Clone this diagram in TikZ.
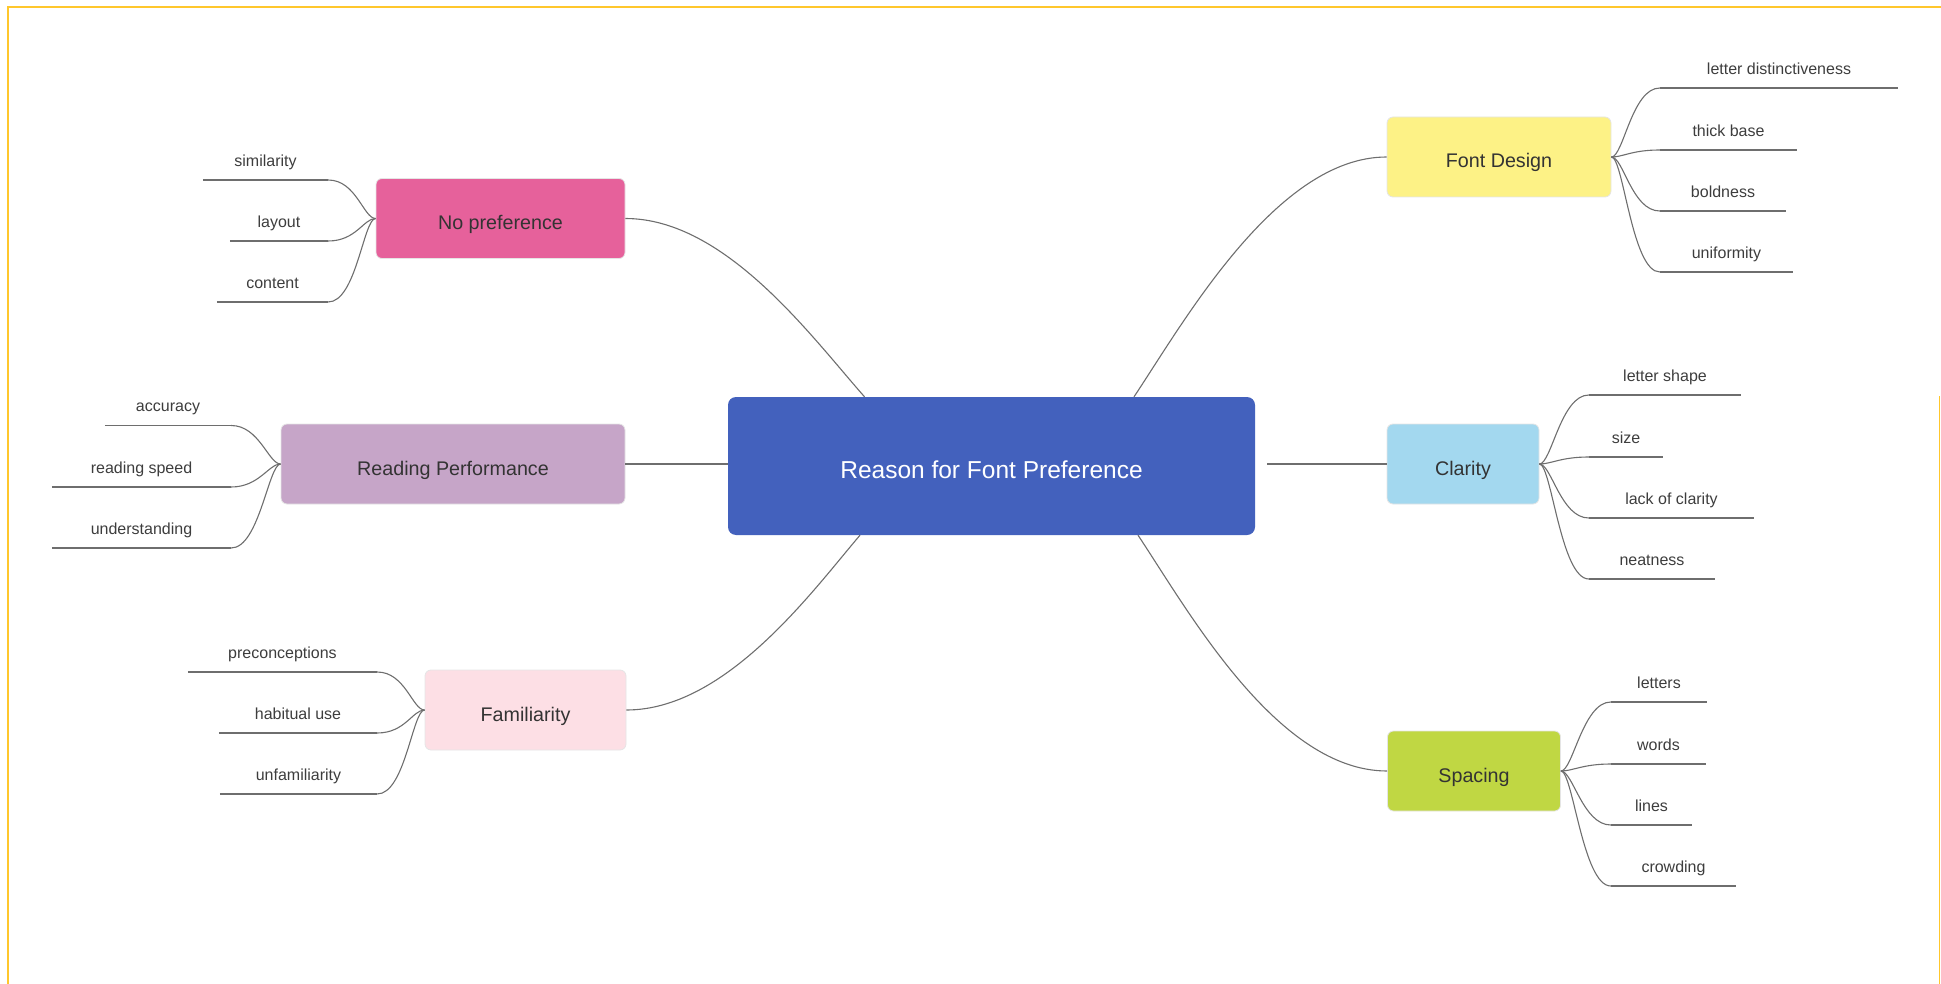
\documentclass[tikz,border=0pt]{standalone}
\usepackage{fontspec}
\setmainfont{Liberation Sans}
\definecolor{rootblue}{HTML}{4361BD}
\definecolor{rosepink}{HTML}{E6619B}
\definecolor{mauve}{HTML}{C6A5C8}
\definecolor{blush}{HTML}{FDDFE5}
\definecolor{lemon}{HTML}{FDF286}
\definecolor{skyblue}{HTML}{A3D8EF}
\definecolor{limegreen}{HTML}{C0D743}
\definecolor{framegold}{HTML}{FFC72C}
\definecolor{inkgray}{HTML}{333333}
\definecolor{wiregray}{HTML}{6E6E6E}

\begin{document}
\begin{tikzpicture}
[
 x=1pt, y=-1pt,
 MAIN/.style={rectangle, rounded corners=8pt, fill=rootblue, text=white, minimum width=527pt, minimum height=138pt, text height=24pt, text depth=0pt, font=\fontsize{24.5}{29}\selectfont},
 BRANCH/.style={rectangle, rounded corners=6pt, draw=black!10, line width=0.8pt, text=inkgray, minimum height=80pt, text height=22pt, text depth=0pt, font=\fontsize{19.7}{24}\selectfont},
 LEAF/.style={anchor=south, inner xsep=0pt, inner ysep=10pt, text height=11.5pt, text depth=3.5pt, text=inkgray!95, font=\fontsize{16}{19}\selectfont},
 WIRE/.style={draw=wiregray, line width=1.1pt},
 RULE/.style={draw=wiregray, line width=1.4pt},
 FRAME/.style={draw=framegold, line width=1.6pt},
 ]
%
\useasboundingbox (0,0) rectangle (1941,984);
\draw [FRAME] (8,984) -- (8,7) -- (1941,7);
\draw [FRAME] (1939.5,396) -- (1939.5,984);
%
\node [MAIN]  (ROOT)  at (991.5,466)  {Reason for Font Preference};
%
\node [BRANCH, fill=rosepink,  minimum width=249pt]  (NOPREF)  at ( 500.5,218.5)  {No preference};
\node [BRANCH, fill=mauve,     minimum width=344pt]  (READ)    at ( 453,464)  {Reading Performance};
\node [BRANCH, fill=blush,     minimum width=201pt]  (FAMIL)   at ( 525.5,710)  {Familiarity};
\node [BRANCH, fill=lemon,     minimum width=224pt]  (DESIGN)  at (1499,157)  {Font Design};
\node [BRANCH, fill=skyblue,   minimum width=152pt]  (CLAR)    at (1463,464)  {Clarity};
\node [BRANCH, fill=limegreen, minimum width=173pt]  (SPAC)    at (1474,771)  {Spacing};
%
\node [LEAF, minimum width=125pt]  (SIM)   at ( 265.5,180)  {similarity};
\node [LEAF, minimum width=98pt]   (LAY)   at ( 279,241)    {layout};
\node [LEAF, minimum width=111pt]  (CON)   at ( 272.5,302)  {content};
%
\node [LEAF, minimum width=126pt]  (ACC)   at ( 168,425.5)  {accuracy};
\node [LEAF, minimum width=179pt]  (RSPD)  at ( 141.5,487)  {reading speed};
\node [LEAF, minimum width=179pt]  (UND)   at ( 141.5,548)  {understanding};
%
\node [LEAF, minimum width=189pt]  (PRE)   at ( 282.5,672)  {preconceptions};
\node [LEAF, minimum width=158pt]  (HAB)   at ( 298,733)    {habitual use};
\node [LEAF, minimum width=157pt]  (UNF)   at ( 298.5,794)  {unfamiliarity};
%
\node [LEAF, minimum width=238pt]  (LDIS)  at (1779,88)     {letter distinctiveness};
\node [LEAF, minimum width=137pt]  (THK)   at (1728.5,150)  {thick base};
\node [LEAF, minimum width=126pt]  (BOLD)  at (1723,211)    {boldness};
\node [LEAF, minimum width=133pt]  (UNIF)  at (1726.5,272)  {uniformity};
%
\node [LEAF, minimum width=152pt]  (LSH)   at (1665,395)    {letter shape};
\node [LEAF, minimum width=74pt]   (SIZE)  at (1626,457)    {size};
\node [LEAF, minimum width=165pt]  (LACK)  at (1671.5,518)  {lack of clarity};
\node [LEAF, minimum width=126pt]  (NEAT)  at (1652,579)    {neatness};
%
\node [LEAF, minimum width=96pt]   (LET)   at (1659,702)    {letters};
\node [LEAF, minimum width=95pt]   (WRD)   at (1658.5,764)  {words};
\node [LEAF, minimum width=81pt]   (LIN)   at (1651.5,825)  {lines};
\node [LEAF, minimum width=125pt]  (CROW)  at (1673.5,886)  {crowding};
%
\coordinate (RNW) at ([xshift=-127pt]ROOT.north);
\coordinate (RNE) at ([xshift=142.5pt]ROOT.north);
\coordinate (RSW) at ([xshift=-131.5pt]ROOT.south);
\coordinate (RSE) at ([xshift=146.5pt]ROOT.south);
\coordinate (RE)  at ([xshift=12pt]ROOT.east);
%
\draw [WIRE]  (NOPREF.east) .. controls +(100,0) and +(-53,-60) .. (RNW);
\draw [WIRE]  (READ.east) -- (READ.east -| ROOT.west);
\draw [WIRE]  (RSW) .. controls +(-47,55) and +(100,0) .. (FAMIL.east);
\draw [WIRE]  (RNE) .. controls +(50,-75) and +(-110,0) .. (DESIGN.west);
\draw [WIRE]  (RE |- CLAR.west) -- (CLAR.west);
\draw [WIRE]  (RSE) .. controls +(50,75) and +(-110,0) .. (SPAC.west);
%
\foreach \n in {SIM,LAY,CON,ACC,RSPD,UND,PRE,HAB,UNF,LDIS,THK,BOLD,UNIF,LSH,SIZE,LACK,NEAT,LET,WRD,LIN,CROW}
   { \draw [RULE]  (\n.south west) -- (\n.south east); }
%
\foreach \n in {SIM,LAY,CON}
   { \draw [WIRE]  (NOPREF.west) .. controls +(-12,0) and +(28,0) .. (\n.south east); }
\foreach \n in {ACC,RSPD,UND}
   { \draw [WIRE]  (READ.west) .. controls +(-12,0) and +(28,0) .. (\n.south east); }
\foreach \n in {PRE,HAB,UNF}
   { \draw [WIRE]  (FAMIL.west) .. controls +(-12,0) and +(28,0) .. (\n.south east); }
\foreach \n in {LDIS,THK,BOLD,UNIF}
   { \draw [WIRE]  (DESIGN.east) .. controls +(12,0) and +(-28,0) .. (\n.south west); }
\foreach \n in {LSH,SIZE,LACK,NEAT}
   { \draw [WIRE]  (CLAR.east) .. controls +(12,0) and +(-28,0) .. (\n.south west); }
\foreach \n in {LET,WRD,LIN,CROW}
   { \draw [WIRE]  (SPAC.east) .. controls +(12,0) and +(-28,0) .. (\n.south west); }
%
\end{tikzpicture}
\end{document}
